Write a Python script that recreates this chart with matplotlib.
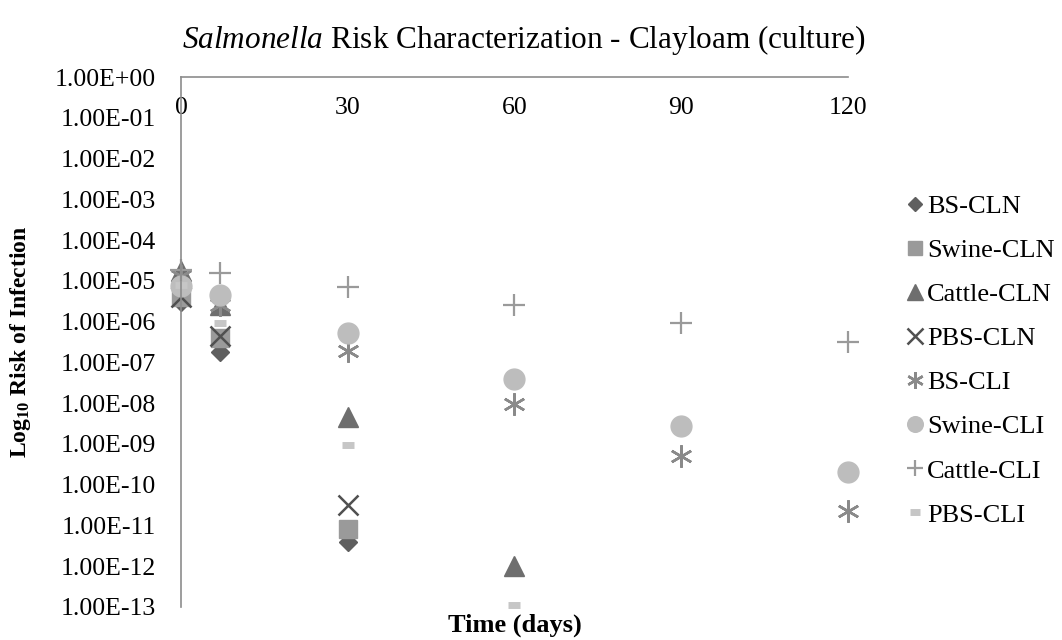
import matplotlib
matplotlib.use('Agg')
import matplotlib.pyplot as plt
from matplotlib.ticker import FixedLocator, FuncFormatter, NullLocator

plt.rcParams['font.family'] = ['Liberation Serif', 'DejaVu Serif']
plt.rcParams['mathtext.fontset'] = 'custom'
plt.rcParams['mathtext.rm'] = 'Liberation Serif'
plt.rcParams['mathtext.it'] = 'Liberation Serif:italic'
plt.rcParams['mathtext.bf'] = 'Liberation Serif:bold'

# sampling days
days_cln = [0, 7, 30]
days_long = [0, 7, 30, 60]
days_cli = [0, 7, 30, 60, 90, 120]

# risk of infection
bs_cln = [3.0e-6, 1.8e-7, 4.0e-12]
swine_cln = [4.0e-6, 4.0e-7, 8.0e-12]
cattle_cln = [1.7e-5, 2.5e-6, 4.5e-9, 1.0e-12]
pbs_cln = [4.0e-6, 4.5e-7, 3.2e-11]
bs_cli = [1.3e-5, 2.5e-6, 1.9e-7, 9.5e-9, 5.0e-10, 2.2e-11]
swine_cli = [7.5e-6, 4.5e-6, 5.4e-7, 3.9e-8, 2.8e-9, 2.1e-10]
cattle_cli = [1.9e-5, 1.6e-5, 7.0e-6, 2.6e-6, 9.0e-7, 3.2e-7]
pbs_cli = [8.0e-6, 9.5e-7, 9.5e-10, 1.1e-13]

x_ticks = [0, 30, 60, 90, 120]
y_ticks = [10.0 ** -k for k in range(0, 14)]

fig = plt.figure(figsize=(10.62, 6.4), dpi=100)
ax = fig.add_axes([0.1704, 0.0516, 0.628, 0.828])

series = [
    ('BS-CLN', days_cln, bs_cln, dict(marker='D', color='#5f5f5f', ms=9)),
    ('Swine-CLN', days_cln, swine_cln, dict(marker='s', color='#9a9a9a', ms=13)),
    ('Cattle-CLN', days_long, cattle_cln, dict(marker='^', color='#6e6e6e', ms=15)),
    ('PBS-CLN', days_cln, pbs_cln, dict(marker='x', color='#505050', ms=15, mew=1.8)),
    ('BS-CLI', days_cli, bs_cli, dict(marker=(6, 2, 0), color='#8a8a8a', ms=16, mew=1.8)),
    ('Swine-CLI', days_cli, swine_cli, dict(marker='o', color='#bdbdbd', ms=15)),
    ('Cattle-CLI', days_cli, cattle_cli, dict(marker='+', color='#9a9a9a', ms=16, mew=1.6)),
    ('PBS-CLI', days_long, pbs_cli, dict(marker='_', color='#c6c6c6', ms=9, mew=5)),
]

handles = []
for name, xs, ys, st in series:
    h, = ax.plot(xs, ys, linestyle='none', label=name, clip_on=False,
                 markeredgecolor=st['color'], **st)
    handles.append(h)

ax.set_yscale('log')
ax.set_ylim(1e-13, 1)
ax.set_xlim(0, 120)
ax.yaxis.set_major_locator(FixedLocator(y_ticks))
ax.yaxis.set_minor_locator(NullLocator())
ax.yaxis.set_major_formatter(FuncFormatter(lambda v, p: f'{v:.2E}'))
ax.set_xticks(x_ticks)

for s in ['right', 'bottom']:
    ax.spines[s].set_visible(False)
for s in ['left', 'top']:
    ax.spines[s].set_color('#8c8c8c')
    ax.spines[s].set_linewidth(1.2)

ax.tick_params(axis='y', length=0, pad=18, labelsize=18.5)
ax.tick_params(axis='x', length=0, top=True, labeltop=True, bottom=False,
               labelbottom=False, pad=-30, labelsize=18.5)

fig.text(0.4934, 0.937, r'$\mathit{Salmonella}$ Risk Characterization - Clayloam (culture)',
         fontsize=22.5, ha='center', va='center')
ax.set_xlabel('Time (days)', fontsize=19, fontweight='bold', labelpad=5)
ax.set_ylabel(r'Log$_{\mathbf{10}}$ Risk of Infection', fontsize=17,
              fontweight='bold')
ax.yaxis.set_label_coords(-0.222, 0.5)

leg = ax.legend(handles=handles, loc='upper left', bbox_to_anchor=(1.0906, 0.778),
                frameon=False, fontsize=19, handlelength=0.5, handletextpad=0.2,
                labelspacing=0.78, markerscale=0.75, borderaxespad=0, borderpad=0)

fig.savefig('out.png', dpi=100)
